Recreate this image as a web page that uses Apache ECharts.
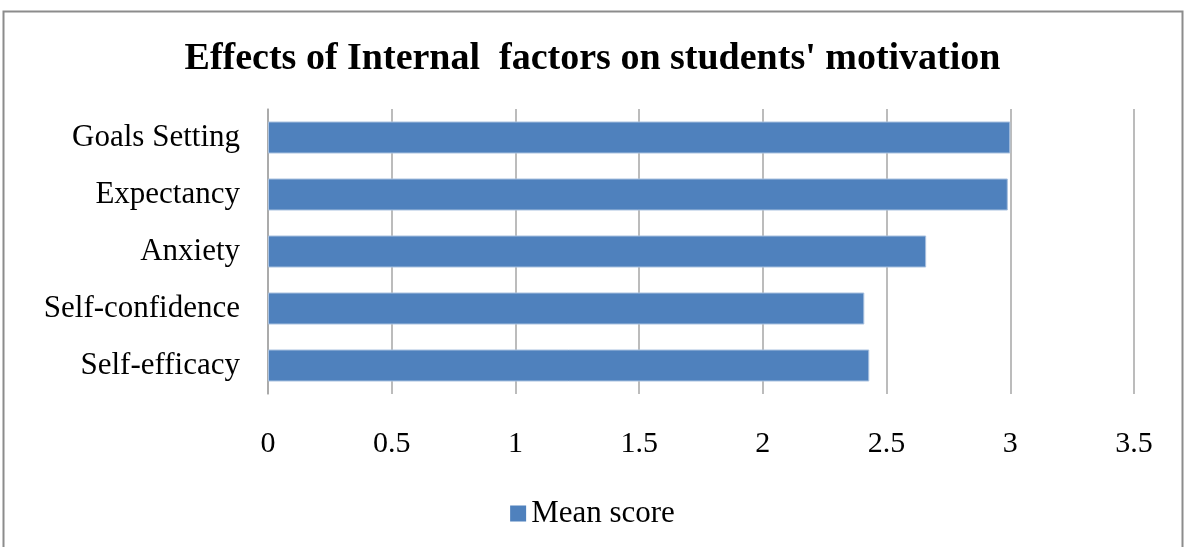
<!DOCTYPE html>
<html>
<head>
<meta charset="utf-8">
<script src="https://cdn.jsdelivr.net/npm/echarts@6/dist/echarts.min.js"></script>
<style>
html,body{margin:0;padding:0;background:#fff;}
#chart{width:1185px;height:547px;}
</style>
</head>
<body>
<div id="chart"></div>
<script>
const titleText = "Effects of Internal  factors on students' motivation";
const categories = ["Goals Setting", "Expectancy", "Anxiety", "Self-confidence", "Self-efficacy"];
const meanScore = [3.00, 2.99, 2.66, 2.41, 2.43];
const seriesName = "Mean score";
const xTicks = [0, 0.5, 1, 1.5, 2, 2.5, 3, 3.5];

const font = "'Liberation Serif', 'Times New Roman', serif";
const chart = echarts.init(document.getElementById('chart'));
chart.setOption({
  animation: false,
  backgroundColor: '#ffffff',
  graphic: [{
    type: 'rect',
    shape: { x: 3.5, y: 11.5, width: 1179, height: 560 },
    style: { fill: 'none', stroke: '#8c8c8c', lineWidth: 2 },
    silent: true
  }],
  title: {
    text: titleText,
    left: 'center',
    top: 35,
    textStyle: { fontFamily: font, fontSize: 38, fontWeight: 'bold', color: '#000' }
  },
  legend: {
    data: [seriesName],
    bottom: 13,
    left: 'center',
    icon: 'rect',
    itemWidth: 16,
    itemHeight: 16,
    itemGap: 8,
    itemStyle: { borderWidth: 0 },
    textStyle: { fontFamily: font, fontSize: 31, color: '#000' }
  },
  grid: { left: 268, right: 51, top: 109, bottom: 153, containLabel: false },
  xAxis: {
    type: 'value',
    min: xTicks[0],
    max: xTicks[xTicks.length - 1],
    interval: 0.5,
    axisLine: { show: false },
    axisTick: { show: false },
    axisLabel: { fontFamily: font, fontSize: 30, color: '#000', margin: 35 },
    splitLine: { show: true, lineStyle: { color: '#a6a6a6', width: 1.5 } }
  },
  yAxis: {
    type: 'category',
    data: categories,
    inverse: true,
    axisLine: { show: true, lineStyle: { color: '#a6a6a6', width: 1.5 } },
    axisTick: { show: false },
    axisLabel: { fontFamily: font, fontSize: 31, color: '#000', margin: 28, padding: [5, 0, 0, 0] }
  },
  series: [{
    name: seriesName,
    type: 'bar',
    data: meanScore,
    barWidth: 32,
    itemStyle: { color: '#4F81BD', borderColor: '#a9c1df', borderWidth: 1 }
  }]
});
</script>
</body>
</html>
